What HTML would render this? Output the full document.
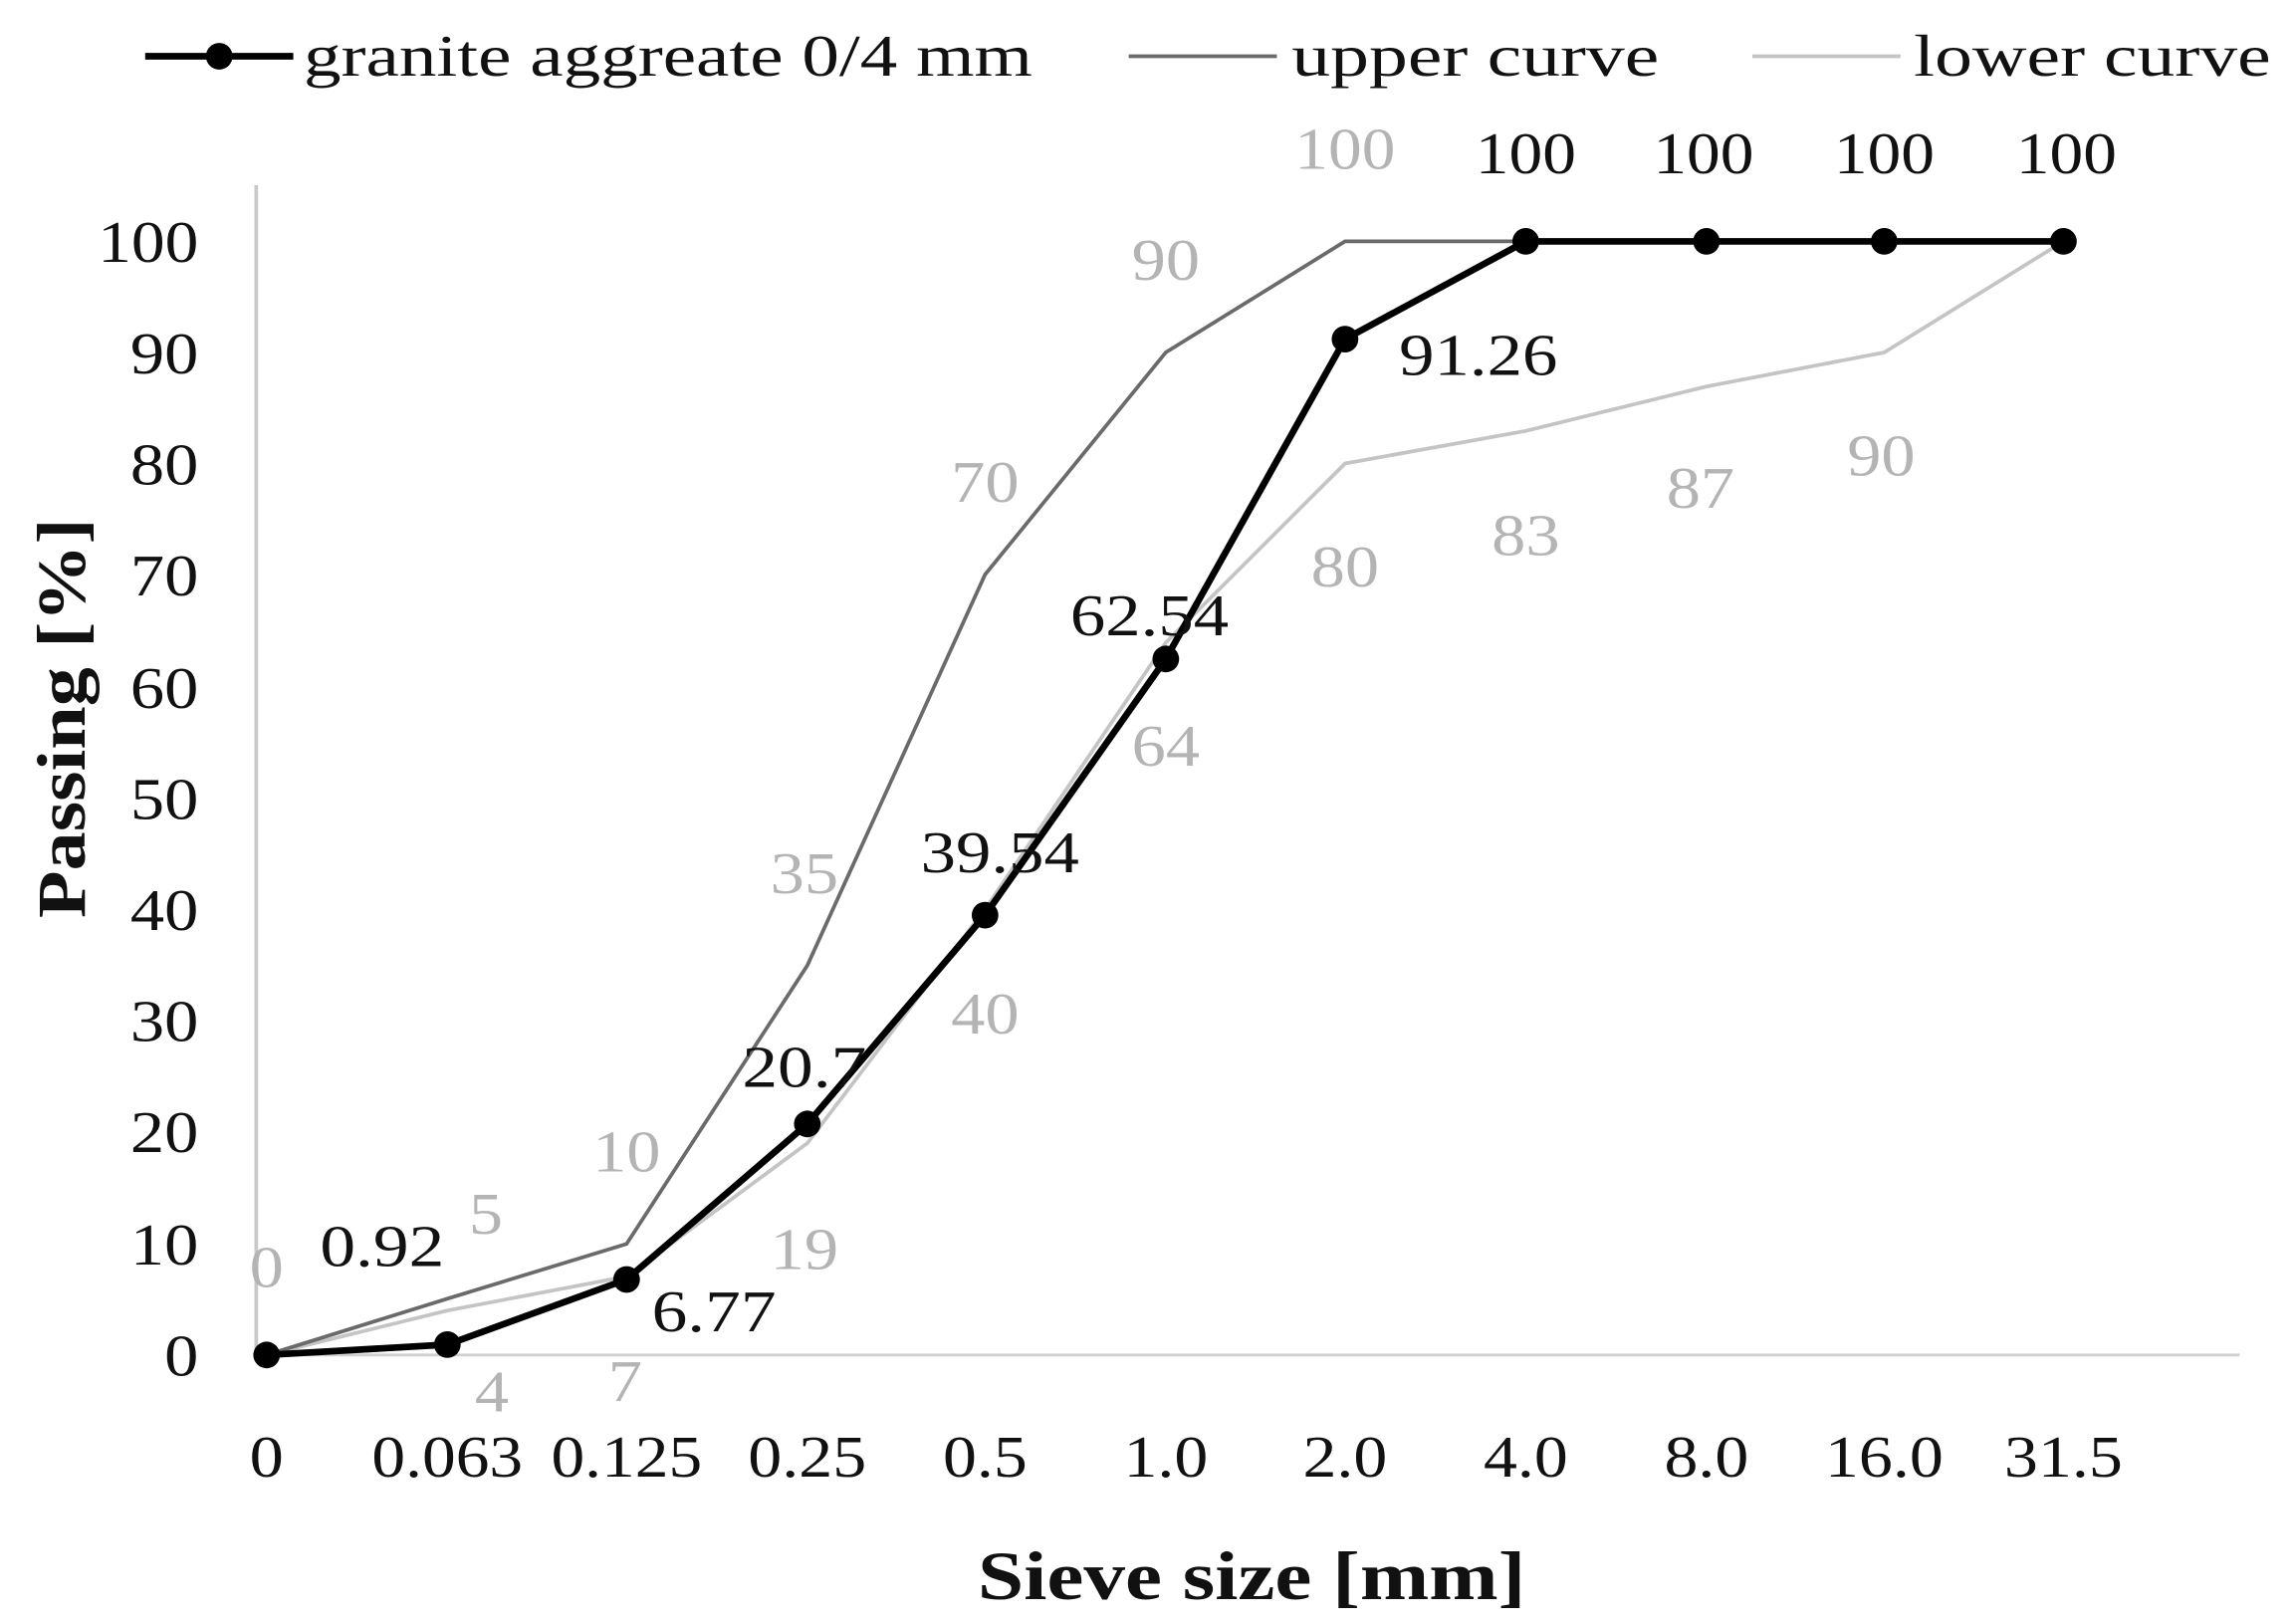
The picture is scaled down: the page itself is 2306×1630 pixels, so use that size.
<!DOCTYPE html>
<html><head><style>body{margin:0;background:#fff}svg{display:block}</style></head><body>
<svg width="2306" height="1630" viewBox="0 0 1550 1096" preserveAspectRatio="none" xmlns="http://www.w3.org/2000/svg" font-family="Liberation Serif, serif">
<rect width="1550" height="1096" fill="#fff"/>
<line x1="173" y1="125" x2="173" y2="915" stroke="#c8c8c8" stroke-width="2.5"/>
<line x1="180" y1="915" x2="1512" y2="915" stroke="#d0d0d0" stroke-width="2"/>
<g font-size="40" fill="#111" text-anchor="end" lengthAdjust="spacingAndGlyphs">
<text x="134" y="929" textLength="23" lengthAdjust="spacingAndGlyphs">0</text>
<text x="134" y="854" textLength="46" lengthAdjust="spacingAndGlyphs">10</text>
<text x="134" y="778" textLength="46" lengthAdjust="spacingAndGlyphs">20</text>
<text x="134" y="703" textLength="46" lengthAdjust="spacingAndGlyphs">30</text>
<text x="134" y="628" textLength="46" lengthAdjust="spacingAndGlyphs">40</text>
<text x="134" y="553" textLength="46" lengthAdjust="spacingAndGlyphs">50</text>
<text x="134" y="478" textLength="46" lengthAdjust="spacingAndGlyphs">60</text>
<text x="134" y="402" textLength="46" lengthAdjust="spacingAndGlyphs">70</text>
<text x="134" y="327" textLength="46" lengthAdjust="spacingAndGlyphs">80</text>
<text x="134" y="252" textLength="46" lengthAdjust="spacingAndGlyphs">90</text>
<text x="134" y="177" textLength="68" lengthAdjust="spacingAndGlyphs">100</text>
</g>
<g font-size="40" fill="#111" text-anchor="middle">
<text x="180" y="997" textLength="23" lengthAdjust="spacingAndGlyphs">0</text>
<text x="302" y="997" textLength="102" lengthAdjust="spacingAndGlyphs">0.063</text>
<text x="423" y="997" textLength="102" lengthAdjust="spacingAndGlyphs">0.125</text>
<text x="545" y="997" textLength="80" lengthAdjust="spacingAndGlyphs">0.25</text>
<text x="665" y="997" textLength="57" lengthAdjust="spacingAndGlyphs">0.5</text>
<text x="787" y="997" textLength="57" lengthAdjust="spacingAndGlyphs">1.0</text>
<text x="908" y="997" textLength="57" lengthAdjust="spacingAndGlyphs">2.0</text>
<text x="1030" y="997" textLength="57" lengthAdjust="spacingAndGlyphs">4.0</text>
<text x="1152" y="997" textLength="57" lengthAdjust="spacingAndGlyphs">8.0</text>
<text x="1272" y="997" textLength="80" lengthAdjust="spacingAndGlyphs">16.0</text>
<text x="1393" y="997" textLength="80" lengthAdjust="spacingAndGlyphs">31.5</text>
</g>
<text x="845" y="1080" font-size="46" font-weight="bold" text-anchor="middle" fill="#111" textLength="370" lengthAdjust="spacingAndGlyphs">Sieve size [mm]</text>
<text transform="translate(57,485) rotate(-90)" font-size="46" font-weight="bold" text-anchor="middle" fill="#111" textLength="270" lengthAdjust="spacingAndGlyphs">Passing [%]</text>
<polyline fill="none" stroke="#c4c4c4" stroke-width="2.5" points="180,915 302,885 423,862 545,772 665,614 787,434 908,313 1030,291 1152,261 1272,238 1393,163"/>
<polyline fill="none" stroke="#6a6a6a" stroke-width="2.5" points="180,915 302,877 423,840 545,652 665,388 787,238 908,163 1030,163 1152,163 1272,163 1393,163"/>
<polyline fill="none" stroke="#000" stroke-width="4.5" points="180,915 302,908 423,864 545,759 665,618 787,445 908,229 1030,163 1152,163 1272,163 1393,163"/>
<g fill="#000">
<circle cx="180" cy="915" r="9"/><circle cx="302" cy="908" r="9"/><circle cx="423" cy="864" r="9"/><circle cx="545" cy="759" r="9"/><circle cx="665" cy="618" r="9"/><circle cx="787" cy="445" r="9"/><circle cx="908" cy="229" r="9"/><circle cx="1030" cy="163" r="9"/><circle cx="1152" cy="163" r="9"/><circle cx="1272" cy="163" r="9"/><circle cx="1393" cy="163" r="9"/>
</g>
<g font-size="40" fill="#b4b4b4" text-anchor="middle">
<text x="180" y="869" textLength="23" lengthAdjust="spacingAndGlyphs">0</text>
<text x="328" y="833" textLength="23" lengthAdjust="spacingAndGlyphs">5</text>
<text x="423" y="791" textLength="46" lengthAdjust="spacingAndGlyphs">10</text>
<text x="543" y="603" textLength="46" lengthAdjust="spacingAndGlyphs">35</text>
<text x="665" y="339" textLength="46" lengthAdjust="spacingAndGlyphs">70</text>
<text x="787" y="189" textLength="46" lengthAdjust="spacingAndGlyphs">90</text>
<text x="908" y="114" textLength="68" lengthAdjust="spacingAndGlyphs">100</text>
<text x="332" y="953" textLength="23" lengthAdjust="spacingAndGlyphs">4</text>
<text x="422" y="946" textLength="23" lengthAdjust="spacingAndGlyphs">7</text>
<text x="543" y="857" textLength="46" lengthAdjust="spacingAndGlyphs">19</text>
<text x="665" y="698" textLength="46" lengthAdjust="spacingAndGlyphs">40</text>
<text x="787" y="517" textLength="46" lengthAdjust="spacingAndGlyphs">64</text>
<text x="908" y="396" textLength="46" lengthAdjust="spacingAndGlyphs">80</text>
<text x="1030" y="375" textLength="46" lengthAdjust="spacingAndGlyphs">83</text>
<text x="1148" y="343" textLength="46" lengthAdjust="spacingAndGlyphs">87</text>
<text x="1270" y="321" textLength="46" lengthAdjust="spacingAndGlyphs">90</text>
</g>
<g font-size="40" fill="#111" text-anchor="middle">
<text x="258" y="855" textLength="84" lengthAdjust="spacingAndGlyphs">0.92</text>
<text x="482" y="899" textLength="84" lengthAdjust="spacingAndGlyphs">6.77</text>
<text x="543" y="734" textLength="84" lengthAdjust="spacingAndGlyphs">20.7</text>
<text x="675" y="589" textLength="107" lengthAdjust="spacingAndGlyphs">39.54</text>
<text x="776" y="429" textLength="107" lengthAdjust="spacingAndGlyphs">62.54</text>
<text x="998" y="253" textLength="107" lengthAdjust="spacingAndGlyphs">91.26</text>
<text x="1030" y="117" textLength="68" lengthAdjust="spacingAndGlyphs">100</text>
<text x="1150" y="117" textLength="68" lengthAdjust="spacingAndGlyphs">100</text>
<text x="1272" y="117" textLength="68" lengthAdjust="spacingAndGlyphs">100</text>
<text x="1395" y="117" textLength="68" lengthAdjust="spacingAndGlyphs">100</text>
</g>
<line x1="98" y1="38" x2="198" y2="38" stroke="#000" stroke-width="4.5"/><circle cx="148" cy="38" r="9" fill="#000"/>
<text x="205" y="51" font-size="40" fill="#111" textLength="492" lengthAdjust="spacingAndGlyphs">granite aggreate 0/4 mm</text>
<line x1="762" y1="38" x2="862" y2="38" stroke="#6a6a6a" stroke-width="2.5"/>
<text x="872" y="51" font-size="40" fill="#111" textLength="248" lengthAdjust="spacingAndGlyphs">upper curve</text>
<line x1="1183" y1="38" x2="1283" y2="38" stroke="#c4c4c4" stroke-width="2.5"/>
<text x="1292" y="51" font-size="40" fill="#111" textLength="241" lengthAdjust="spacingAndGlyphs">lower curve</text>
</svg>
</body></html>
